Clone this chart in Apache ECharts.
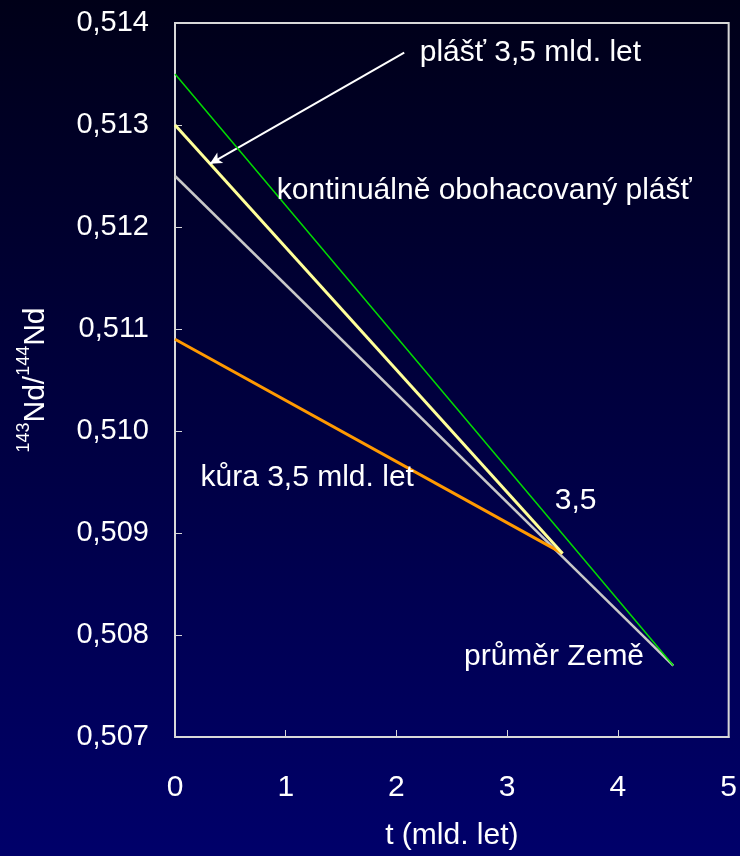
<!DOCTYPE html>
<html>
<head>
<meta charset="utf-8">
<script src="https://cdn.jsdelivr.net/npm/echarts@6/dist/echarts.min.js"></script>
<style>
	html, body { margin: 0; padding: 0; }
	#chart { width: 740px; height: 856px; }
</style>
</head>
<body>
<div id="chart"></div>
<script>
	// osa x: stari (mld. let), osa y: 143Nd/144Nd
	const xMin = 0, xMax = 5, xStep = 1;
	const yMin = 0.507, yMax = 0.514, yStep = 0.001;

	// vyvojove linie [t, pomer]
	const earthT = [0, 4.5];
	const earthR = [0.5125, 0.5077];     // prumer Zeme
	const enrichedT = [0, 4.5];
	const enrichedR = [0.5135, 0.5077];  // kontinualne obohacovany plast
	const mantleT = [0, 3.5];
	const mantleR = [0.5130, 0.5088];    // plast 3,5 mld. let
	const crustT = [0, 3.5];
	const crustR = [0.5109, 0.5088];     // kura 3,5 mld. let

	// popisky v datovych souradnicich (levy okraj, stred)
	const noteText = ['plášť 3,5 mld. let', 'kontinuálně obohacovaný plášť', 'kůra 3,5 mld. let', '3,5', 'průměr Země'];
	const noteT = [2.21, 0.92, 0.23, 3.43, 2.61];
	const noteR = [0.51371, 0.51236, 0.50954, 0.50932, 0.50779];

	// sipka k plasti 3,5 mld. let
	const arrowFrom = [2.07, 0.51371];
	const arrowTo = [0.315, 0.51262];

	const zip = (a, b) => a.map((v, i) => [v, b[i]]);
	const font = '"Liberation Sans", Arial, sans-serif';

	const myChart = echarts.init(document.getElementById('chart'));

	const option = {
		animation: false,
		backgroundColor: new echarts.graphic.LinearGradient(0, 0, 0, 1, [
			{ offset: 0, color: '#000018' },
			{ offset: 1, color: '#00006a' }
		]),
		textStyle: { fontFamily: font },
		grid: {
			show: true,
			left: 175,
			right: 11,
			top: 23,
			bottom: 119,
			borderColor: '#d8d8d8',
			borderWidth: 2,
			backgroundColor: 'transparent'
		},
		xAxis: {
			type: 'value',
			min: xMin,
			max: xMax,
			interval: xStep,
			name: 't (mld. let)',
			nameLocation: 'middle',
			nameGap: 84,
			nameTextStyle: { color: '#fff', fontSize: 30, fontFamily: font },
			axisLine: { show: true, lineStyle: { color: '#d8d8d8', width: 2 } },
			axisTick: { show: true, inside: true, length: 7, lineStyle: { color: '#d8d8d8', width: 1 } },
			splitLine: { show: false },
			axisLabel: { color: '#fff', fontSize: 30, margin: 36, fontFamily: font }
		},
		yAxis: {
			type: 'value',
			min: yMin,
			max: yMax,
			interval: yStep,
			name: '{s|143}{n|Nd/}{s|144}{n|Nd}',
			nameLocation: 'middle',
			nameRotate: 90,
			nameGap: 124,
			nameTextStyle: {
				color: '#fff',
				rich: {
					n: { fontSize: 30, lineHeight: 36, color: '#fff', fontFamily: font, verticalAlign: 'bottom' },
					s: { fontSize: 18, lineHeight: 36, color: '#fff', fontFamily: font, verticalAlign: 'top' }
				}
			},
			axisLine: { show: true, lineStyle: { color: '#d8d8d8', width: 2 } },
			axisTick: { show: true, inside: true, length: 7, lineStyle: { color: '#d8d8d8', width: 1 } },
			splitLine: { show: false },
			axisLabel: {
				color: '#fff',
				fontSize: 29,
				margin: 26,
				fontFamily: font,
				formatter: v => v.toFixed(3).replace('.', ',')
			}
		},
		series: [{
				name: 'průměr Země',
				type: 'line',
				data: zip(earthT, earthR),
				symbol: 'none',
				lineStyle: { color: '#c8c8c8', width: 2.5 },
				z: 2
			},
			{
				name: 'kůra 3,5 mld. let',
				type: 'line',
				data: zip(crustT, crustR),
				symbol: 'none',
				lineStyle: { color: '#ff9900', width: 3 },
				z: 3
			},
			{
				name: 'plášť 3,5 mld. let',
				type: 'line',
				data: zip(mantleT, mantleR),
				symbol: 'none',
				lineStyle: { color: '#ffff99', width: 3 },
				z: 4
			},
			{
				name: 'kontinuálně obohacovaný plášť',
				type: 'line',
				data: zip(enrichedT, enrichedR),
				symbol: 'none',
				lineStyle: { color: '#00dd00', width: 1.5 },
				z: 5,
				markLine: {
					silent: true,
					symbol: ['none', 'arrow'],
					symbolSize: [9, 12],
					label: { show: false },
					lineStyle: { color: '#ffffff', width: 2, type: 'solid', opacity: 1 },
					data: [
						[{ coord: arrowFrom }, { coord: arrowTo }]
					]
				}
			},
			{
				name: 'popisky',
				type: 'scatter',
				symbolSize: 0,
				silent: true,
				itemStyle: { opacity: 1 },
				data: noteT.map((t, i) => ({ value: [t, noteR[i]], name: noteText[i] })),
				label: {
					show: true,
					position: 'right',
					distance: 0,
					color: '#ffffff',
					opacity: 1,
					fontSize: 30,
					fontFamily: font,
					formatter: p => p.name
				},
				z: 6
			}
		]
	};

	myChart.setOption(option);
</script>
</body>
</html>
